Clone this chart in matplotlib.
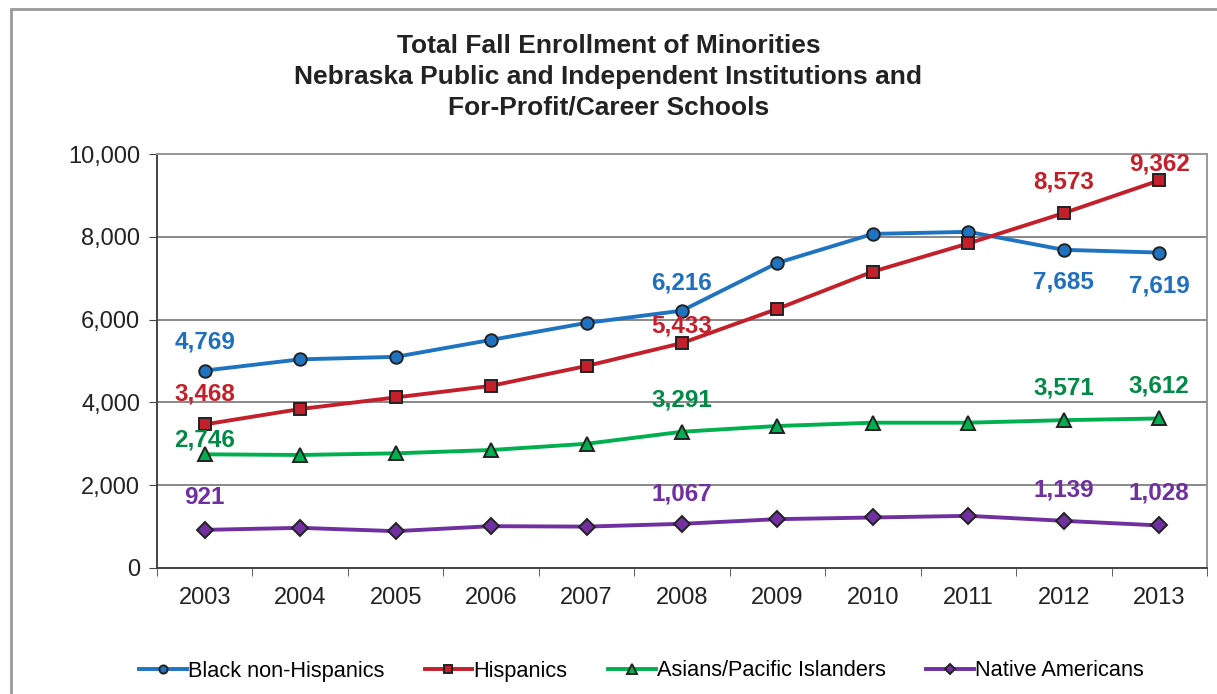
import numpy as np
import matplotlib.pyplot as plt
from matplotlib.patches import Rectangle

plt.rcParams['font.family'] = ['Liberation Sans', 'DejaVu Sans']

years = ['2003', '2004', '2005', '2006', '2007', '2008', '2009', '2010', '2011', '2012', '2013']
black = [4769, 5040, 5100, 5510, 5920, 6216, 7370, 8070, 8120, 7685, 7619]
hispanic = [3468, 3840, 4120, 4400, 4880, 5433, 6260, 7160, 7840, 8573, 9362]
asian = [2746, 2730, 2770, 2850, 3000, 3291, 3430, 3510, 3510, 3571, 3612]
native = [921, 970, 890, 1010, 1000, 1067, 1180, 1220, 1260, 1139, 1028]

# which points get a value label, and where (offset in px, + is up)
labels = {
    'black': [(0, 29), (5, 28), (9, -32), (10, -33)],
    'hispanic': [(0, 30), (5, 17), (9, 31), (10, 16)],
    'asian': [(0, 14), (5, 32), (9, 32), (10, 32)],
    'native': [(0, 32), (5, 30), (9, 31), (10, 32)],
}

series = [
    ('black', 'Black non-Hispanics', black, '#1f74c2', '#1f6fbf', 'o', 9),
    ('hispanic', 'Hispanics', hispanic, '#c4202b', '#c4202b', 's', 9),
    ('asian', 'Asians/Pacific Islanders', asian, '#00b04f', '#008a45', '^', 10),
    ('native', 'Native Americans', native, '#7030a0', '#7030a0', 'D', 8),
]

fig = plt.figure(figsize=(12.17, 6.94), dpi=100)
ax = fig.add_axes([157/1217, 1-568/694, 1050/1217, 414/694])

x = np.arange(len(years))
for key, name, vals, lc, tc, mk, ms in series:
    ax.plot(x, vals, color=lc, lw=2.8, marker=mk, markersize=ms,
            markerfacecolor=lc, markeredgecolor='#222222', markeredgewidth=1.4,
            label=name, zorder=3)
    for i, dy in labels[key]:
        ax.annotate(f'{vals[i]:,}', (x[i], vals[i]), xytext=(0, dy * 0.72),
                    textcoords='offset points', ha='center', va='center',
                    fontsize=17.5, fontweight='bold', color=tc, zorder=4)

ax.set_xlim(-0.5, len(years) - 0.5)
ax.set_ylim(0, 10000)
ax.set_yticks(np.arange(0, 10001, 2000))
ax.set_yticklabels([f'{v:,}' for v in range(0, 10001, 2000)])
ax.set_xticks(x)
ax.set_xticklabels(years)
ax.set_xticks(np.arange(-0.5, len(years)), minor=True)
ax.tick_params(axis='x', which='major', length=0, pad=14, labelsize=17, colors='#222222')
ax.tick_params(axis='x', which='minor', length=6, color='#444444')
ax.tick_params(axis='y', length=6, color='#444444', labelsize=17, labelcolor='#222222', pad=6)
ax.grid(axis='y', color='#888888', lw=1.4)
ax.set_axisbelow(True)
for s in ['top', 'right']:
    ax.spines[s].set_color('#999999')
    ax.spines[s].set_linewidth(1.4)
for s in ['left', 'bottom']:
    ax.spines[s].set_color('#444444')
    ax.spines[s].set_linewidth(1.4)

fig.text(0.5, 1 - 77/694, 'Total Fall Enrollment of Minorities\nNebraska Public and Independent Institutions and\nFor-Profit/Career Schools',
         ha='center', va='center', fontsize=19, fontweight='bold', color='#222222', linespacing=1.36)

fig.legend(loc='center', bbox_to_anchor=(0.527, 1 - 671/694), ncol=4, frameon=False,
           fontsize=15.7, handlelength=2.2, handletextpad=0.05, columnspacing=1.85, markerscale=0.65)

fig.patches.append(Rectangle((11/1217, -0.1), 1.2, 1 - 9/694 + 0.1, transform=fig.transFigure,
                             fill=False, edgecolor='#999999', lw=2))

fig.savefig('out.png', dpi=100)
